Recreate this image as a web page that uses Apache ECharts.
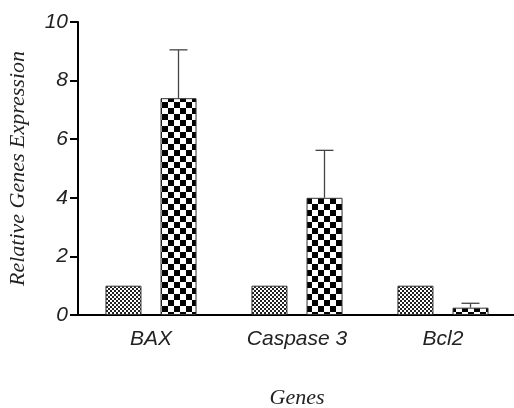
<!DOCTYPE html>
<html><head><meta charset="utf-8">
<script src="https://cdn.jsdelivr.net/npm/echarts@6/dist/echarts.min.js"></script>
<style>html,body{margin:0;padding:0;background:#fff}#c{width:514px;height:408px}</style>
</head><body><div id="c"></div>
<script>
var categories = ['BAX', 'Caspase 3', 'Bcl2'];
var control = [1.0, 1.0, 1.0];
var treated = [7.4, 4.0, 0.25];
var treatedErr = [1.65, 1.62, 0.15];
var yTicks = [0, 2, 4, 6, 8, 10];

function checker(cell, dark, light) {
  var c = document.createElement('canvas');
  c.width = cell * 2; c.height = cell * 2;
  var g = c.getContext('2d');
  g.fillStyle = light; g.fillRect(0, 0, cell * 2, cell * 2);
  g.fillStyle = dark;
  g.fillRect(0, 0, cell, cell);
  g.fillRect(cell, cell, cell, cell);
  return c;
}
var fine = checker(2, '#222', '#fff');
var coarse = checker(6, '#000', '#fff');

var chart = echarts.init(document.getElementById('c'), null, {renderer: 'canvas'});
var errData = treated.map(function (v, i) { return [i, v, v + treatedErr[i]]; });

chart.setOption({
  animation: false,
  grid: {left: 78, top: 22, right: -2, bottom: 93, outerBoundsMode: 'none', containLabel: false},
  xAxis: {
    type: 'category', data: categories,
    name: 'Genes', nameLocation: 'middle', nameGap: 72,
    nameTextStyle: {fontFamily: 'Liberation Serif', fontStyle: 'italic', fontSize: 22, color: '#222'},
    axisLine: {lineStyle: {color: '#000', width: 2}},
    axisTick: {show: false},
    axisLabel: {fontFamily: 'Liberation Sans', fontStyle: 'italic', fontSize: 21, color: '#222', margin: 14}
  },
  yAxis: {
    type: 'value', min: yTicks[0], max: yTicks[yTicks.length - 1], interval: 2,
    name: 'Relative Genes Expression', nameLocation: 'middle', nameGap: 49,
    nameTextStyle: {fontFamily: 'Liberation Serif', fontStyle: 'italic', fontSize: 22, color: '#222'},
    axisLine: {show: true, lineStyle: {color: '#000', width: 2}},
    axisTick: {show: true, length: 8, lineStyle: {color: '#000', width: 2}},
    splitLine: {show: false},
    axisLabel: {fontFamily: 'Liberation Sans', fontStyle: 'italic', fontSize: 21, color: '#222', margin: 10}
  },
  series: [
    {type: 'bar', data: control, barWidth: 36, barGap: '53%',
     itemStyle: {color: {image: fine, repeat: 'repeat'}, borderColor: '#333', borderWidth: 1}},
    {type: 'bar', data: treated, barWidth: 36,
     itemStyle: {color: {image: coarse, repeat: 'repeat'}, borderColor: '#333', borderWidth: 1}},
    {type: 'custom', data: errData, z: 5,
     renderItem: function (params, api) {
       var i = api.value(0);
       var top = api.coord([i, api.value(2)]);
       var base = api.coord([i, api.value(1)]);
       var x = top[0] + 27.5;
       return {type: 'group', children: [
         {type: 'line', shape: {x1: x, y1: base[1], x2: x, y2: top[1]}, style: {stroke: '#444', lineWidth: 1.3}},
         {type: 'line', shape: {x1: x - 9, y1: top[1], x2: x + 9, y2: top[1]}, style: {stroke: '#444', lineWidth: 1.3}}
       ]};
     }}
  ]
});
</script></body></html>
